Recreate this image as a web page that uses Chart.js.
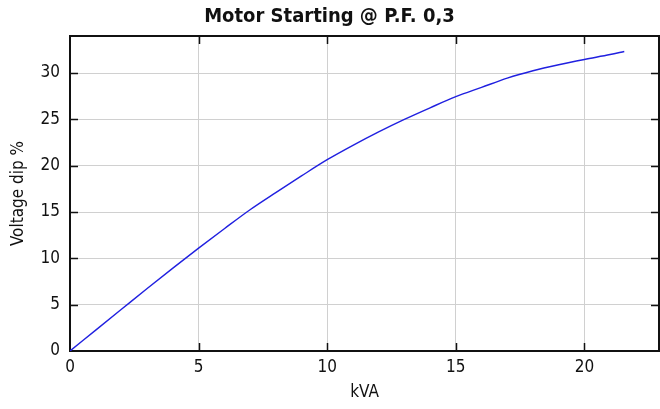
<!DOCTYPE html>
<html>
<head>
<meta charset="utf-8">
<script src="https://cdn.jsdelivr.net/npm/chart.js@4/dist/chart.umd.min.js"></script>
<style>
  html, body { margin: 0; padding: 0; background: #ffffff; }
  #wrap { width: 660px; height: 409px; }
</style>
</head>
<body>
<div id="wrap"><canvas id="dipChart"></canvas></div>
<script>
// Data
const kva = [0, 1, 2, 3, 4, 5, 6, 7, 8, 9, 10, 11, 12, 13, 14, 15, 16, 17, 18, 19, 20, 21, 21.55];
const voltageDip = [0, 2.25, 4.5, 6.75, 8.95, 11.1, 13.2, 15.25, 17.1, 18.9, 20.65, 22.2, 23.65, 25.0,
  26.25, 27.45, 28.45, 29.45, 30.25, 30.9, 31.47, 32.0, 32.33];

const titleText = 'Motor Starting @ P.F. 0,3';
const xTitle = 'kVA';
const yTitle = 'Voltage dip %';

const fontFamily = "'Liberation Sans Narrow', 'DejaVu Sans Condensed', sans-serif";

// Frame on top/right plus inward ticks on all four sides
const frameTicks = {
  id: 'frameTicks',
  beforeDatasetsDraw(chart) {
    const { ctx, chartArea: a, scales } = chart;
    const len = 8;
    ctx.save();
    ctx.strokeStyle = '#111111';
    ctx.lineWidth = 2;
    ctx.beginPath();
    ctx.moveTo(a.left, a.top);
    ctx.lineTo(a.right, a.top);
    ctx.lineTo(a.right, a.bottom);
    ctx.stroke();

    ctx.lineWidth = 1.5;
    ctx.beginPath();
    scales.x.ticks.forEach(t => {
      const px = Math.round(scales.x.getPixelForValue(t.value)) + 0.5;
      if (t.value === 0) return;
      ctx.moveTo(px, a.bottom);
      ctx.lineTo(px, a.bottom - len);
      ctx.moveTo(px, a.top);
      ctx.lineTo(px, a.top + len);
    });
    scales.y.ticks.forEach(t => {
      const py = Math.round(scales.y.getPixelForValue(t.value)) + 0.5;
      if (t.value === 0) return;
      ctx.moveTo(a.left, py);
      ctx.lineTo(a.left + len, py);
      ctx.moveTo(a.right, py);
      ctx.lineTo(a.right - len, py);
    });
    ctx.stroke();
    ctx.restore();
  }
};

const ctx = document.getElementById('dipChart');

new Chart(ctx, {
  type: 'line',
  data: {
    datasets: [{
      data: kva.map((x, i) => ({ x: x, y: voltageDip[i] })),
      borderColor: '#2020e0',
      borderWidth: 1.4,
      pointRadius: 0,
      fill: false,
      cubicInterpolationMode: 'monotone'
    }]
  },
  options: {
    responsive: true,
    maintainAspectRatio: false,
    animation: false,
    layout: { padding: { left: 0, right: 1, top: 0, bottom: 0 } },
    plugins: {
      legend: { display: false },
      tooltip: { enabled: false },
      title: {
        display: true,
        text: titleText,
        color: '#111111',
        font: { family: fontFamily, size: 20, weight: 'bold' },
        padding: { top: 5, bottom: 7 }
      }
    },
    scales: {
      x: {
        type: 'linear',
        min: 0,
        max: 22.9,
        afterFit(scale) { scale.height = 58; },
        ticks: {
          stepSize: 5,
          includeBounds: false,
          padding: 6,
          color: '#111111',
          font: { family: fontFamily, size: 17 }
        },
        grid: { color: '#d0d0d0', lineWidth: 1, drawTicks: false },
        border: { display: true, color: '#111111', width: 2 },
        title: {
          display: true,
          text: xTitle,
          color: '#111111',
          font: { family: fontFamily, size: 17 },
          padding: { top: 0, bottom: 6 }
        }
      },
      y: {
        type: 'linear',
        min: 0,
        max: 34,
        afterFit(scale) { scale.width = 70; },
        ticks: {
          stepSize: 5,
          includeBounds: false,
          padding: 10,
          color: '#111111',
          font: { family: fontFamily, size: 17 }
        },
        grid: { color: '#d0d0d0', lineWidth: 1, drawTicks: false },
        border: { display: true, color: '#111111', width: 2 },
        title: {
          display: true,
          text: yTitle,
          color: '#111111',
          font: { family: fontFamily, size: 17 },
          padding: { top: 8, bottom: 0 }
        }
      }
    }
  },
  plugins: [frameTicks]
});
</script>
</body>
</html>
